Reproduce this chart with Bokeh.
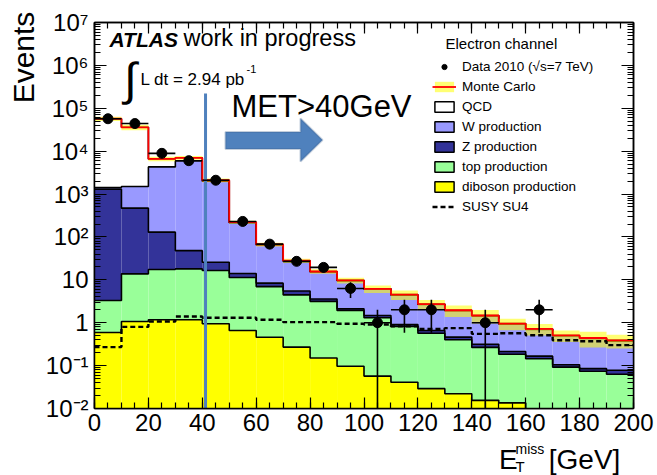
import numpy as np
from bokeh.plotting import figure
from bokeh.layouts import row, column
from bokeh.models import (Label, Legend, LegendItem, LinearAxis, LogAxis, FixedTicker,
                          PolyAnnotation, Range1d)
from bokeh.embed import file_html
from bokeh.resources import INLINE

# ---------------- data ----------------
BIN_EDGES = [0, 10, 20, 30, 40, 50, 60, 70, 80, 90, 100,
             110, 120, 130, 140, 150, 160, 170, 180, 190, 200]
DATA = [57000, 44000, 8900, 6000, 2100, 230, 68, 27, 19.5, 6.3,
        1, 2, 2, 0, 1, 0, 2, 0, 0, 0]
QCD = [55600, 34500, 2300, 1000, 100, 6, 2, 0.9, 0.4, 0.2,
       0.1, 0.1, 0.06, 0.04, 0.03, 0.02, 0.02, 0.01, 0.01, 0.01]
W_PROD = [120, 1030, 4170, 5950, 1975, 201, 56.6, 21.5, 11.7, 7.4,
          4.6, 3.5, 2.0, 1.45, 1.13, 0.72, 0.53, 0.39, 0.345, 0.30]
Z_PROD = [1297, 456, 112, 30, 9.2, 2.7, 1.4, 1.0, 0.41, 0.18,
          0.17, 0.09, 0.09, 0.06, 0.05, 0.03, 0.021, 0.013, 0.011, 0.015]
TOP_PROD = [2.7, 12.7, 16.3, 16.8, 15.6, 10.7, 6.5, 4.2, 3.0, 1.84,
            1.25, 0.78, 0.54, 0.38, 0.25, 0.17, 0.145, 0.092, 0.074, 0.063]
DIBOSON = [0.59, 1.07, 1.17, 1.17, 0.95, 0.66, 0.46, 0.27, 0.15, 0.097,
           0.057, 0.041, 0.029, 0.022, 0.0155, 0.0135, 0, 0, 0, 0]
SUSY_SU4 = [0.27, 0.8, 1.07, 1.40, 1.31, 1.31, 1.17, 1.03, 1.03, 0.95,
            0.91, 0.82, 0.72, 0.75, 0.55, 0.57, 0.51, 0.39, 0.37, 0.30]
MC_REL_UNC = [0.12, 0.15, 0.12, 0.10, 0.10, 0.08, 0.10, 0.12, 0.12, 0.15,
              0.20, 0.25, 0.25, 0.30, 0.35, 0.30, 0.30, 0.30, 0.40, 0.35]
MET_CUT = 41.2

X_TICKS = [0, 20, 40, 60, 80, 100, 120, 140, 160, 180, 200]
Y_TICK_VALUES = [1e-2, 1e-1, 1.0, 10.0, 1e2, 1e3, 1e4, 1e5, 1e6, 1e7]
Y_TICK_LABELS = ["10⁻²", "10⁻¹", "1", "10", "10²", "10³", "10⁴", "10⁵", "10⁶", "10⁷"]

LEGEND_TITLE = "Electron channel"
LEGEND_LABELS = ["Data 2010 (√s=7 TeV)", "Monte Carlo", "QCD", "W production",
                 "Z production", "top production", "diboson production", "SUSY SU4"]

# ---------------- styling ----------------
FONT = "Liberation Sans"
W, H = 657, 475
STRIP_W = 40                              # left strip holding "Events"
MAIN_H = 440                              # main figure height
FL, FR, FT, FB = 94, 633, 22, 408         # frame edges in picture pixels
FLOOR = 1e-3
K_BASE = 0.35                             # alphabetic baseline correction (em)

C_W = "#9999ff"
C_Z = "#333399"
C_TOP = "#99ff99"
C_DIB = "#ffff00"
C_ARROW = "#4f81bd"

p = figure(width=W - STRIP_W, height=MAIN_H, x_range=(0, 200), y_range=(1e-2, 1e7),
           y_axis_type="log", output_backend="svg", toolbar_location=None,
           min_border_left=FL - STRIP_W, min_border_right=W - FR,
           min_border_top=FT, min_border_bottom=MAIN_H - FB)
p.grid.visible = False
p.outline_line_color = "black"
p.outline_line_width = 1.5
p.background_fill_color = "white"
p.border_fill_color = "white"

edges = np.array(BIN_EDGES, dtype=float)
left, right = edges[:-1], edges[1:]
centers = 0.5 * (left + right)

# stacked histograms, bottom to top
components = [DIBOSON, TOP_PROD, Z_PROD, W_PROD, QCD]
colors = [C_DIB, C_TOP, C_Z, C_W, "white"]
cum = np.zeros(len(left))
levels = []
for comp, col in zip(components, colors):
    lower = cum.copy()
    cum = cum + np.array(comp, dtype=float)
    levels.append(cum.copy())
    p.quad(left=left, right=right, bottom=np.maximum(lower, FLOOR),
           top=np.maximum(cum, FLOOR), fill_color=col, line_alpha=0)

total = cum.copy()

def step_y(vals):
    v = np.maximum(np.asarray(vals, dtype=float), FLOOR)
    return np.append(v, v[-1])

for lev in levels:
    p.step(x=edges, y=step_y(lev), mode="after", line_color="black", line_width=1.6)

# MC uncertainty band
unc = np.array(MC_REL_UNC)
band = p.quad(left=left, right=right, bottom=total * (1 - unc), top=total * (1 + unc),
              fill_color=C_DIB, fill_alpha=0.55, line_alpha=0)
# MC total
mc_line = p.step(x=edges, y=step_y(total), mode="after", line_color="red", line_width=1.8)

# SUSY
susy = p.step(x=edges, y=step_y(SUSY_SU4), mode="after", line_color="black",
              line_width=2.4, line_dash="5 3")

# cut line
p.segment(x0=[MET_CUT], y0=[1e-2 * 0.8], x1=[MET_CUT], y1=[2.2e5],
          line_color=C_ARROW, line_width=3)

# data
d = np.array(DATA, dtype=float)
has = d > 0
xd, yd = centers[has], d[has]
err = np.sqrt(yd)
lo = np.where(yd - err > FLOOR, yd - err, FLOOR)
p.segment(x0=xd, y0=lo, x1=xd, y1=yd + err, line_color="black", line_width=1.6)
p.segment(x0=left[has], y0=yd, x1=right[has], y1=yd, line_color="black", line_width=1.6)
data_r = p.scatter(x=xd, y=yd, marker="circle", size=10, fill_color="black",
                   line_color="black")

# ---------------- axes ----------------
xt = FixedTicker(ticks=X_TICKS, minor_ticks=list(np.arange(0, 201, 5)))
minor_y = [m * 10.0 ** e for e in range(-2, 7) for m in range(2, 10)]
yt = FixedTicker(ticks=Y_TICK_VALUES, minor_ticks=minor_y)

def style_axis(ax, major_in, minor_in):
    ax.axis_line_color = "black"
    ax.axis_line_width = 1.5
    ax.major_tick_in = major_in
    ax.major_tick_out = 0
    ax.minor_tick_in = minor_in
    ax.minor_tick_out = 0
    ax.major_tick_line_color = "black"
    ax.minor_tick_line_color = "black"
    ax.major_tick_line_width = 1.2
    ax.minor_tick_line_width = 1.2

xa = p.xaxis[0]
xa.ticker = xt
style_axis(xa, 11, 6)
xa.major_label_text_font = FONT
xa.major_label_text_font_size = "24px"
xa.major_label_text_color = "black"
xa.major_label_standoff = 5

ya = p.yaxis[0]
ya.ticker = yt
style_axis(ya, 12, 6)
ya.major_label_overrides = dict(zip(Y_TICK_VALUES, Y_TICK_LABELS))
ya.major_label_text_font = FONT
ya.major_label_text_font_size = "24px"
ya.major_label_text_color = "black"
ya.major_label_standoff = 6

top_ax = LinearAxis(ticker=xt, major_label_text_font_size="6px",
                    major_label_text_color=None, major_label_standoff=0)
style_axis(top_ax, 11, 6)
p.add_layout(top_ax, "above")
right_ax = LogAxis(ticker=yt, major_label_text_font_size="6px",
                   major_label_text_color=None, major_label_standoff=0)
style_axis(right_ax, 12, 6)
p.add_layout(right_ax, "right")

# ---------------- texts (positions in picture pixels) ----------------
def lab(fig, text, x, y, size, style="normal", align="left", baseline="alphabetic",
        angle=0.0, frame_rel=True):
    yy = y - K_BASE * size if baseline == "alphabetic" else y
    if frame_rel:
        kw = dict(x=x - FL, y=FB - yy, x_units="screen", y_units="screen")
    else:
        kw = dict(x=x, y=yy)
    fig.add_layout(Label(text=text, text_font=FONT, text_font_size=f"{size}px",
                         text_font_style=style, text_align=align, text_baseline=baseline,
                         text_color="black", angle=angle, **kw))

lab(p, "ATLAS", 109, 46, 21, style="bold italic")
lab(p, "work in progress", 183, 46, 23.5)
lab(p, "∫", 130, 78, 46, align="center", baseline="middle")
lab(p, "L dt = 2.94 pb", 140, 85, 17)
lab(p, "-1", 246, 72, 11)
lab(p, "MET>40GeV", 231, 117, 31)
lab(p, LEGEND_TITLE, 445, 48, 15)

# big arrow
ax_pts = [225, 300, 300, 322, 300, 300, 225]
ay_pts = [131.5, 131.5, 118, 139.5, 161, 148.5, 148.5]
p.add_layout(PolyAnnotation(xs=[v - FL for v in ax_pts], ys=[FB - v for v in ay_pts],
                            xs_units="screen", ys_units="screen",
                            fill_color=C_ARROW, fill_alpha=1.0,
                            line_color="#385d8a", line_width=2))

# ---------------- legend ----------------
def legend_box(col):
    return p.quad(left=[np.nan], right=[np.nan], top=[np.nan], bottom=[np.nan],
                  fill_color=col, line_color="black", line_width=1.5)

leg_qcd = legend_box("white")
leg_w = legend_box(C_W)
leg_z = legend_box(C_Z)
leg_t = legend_box(C_TOP)
leg_d = legend_box(C_DIB)

items = [
    LegendItem(label=LEGEND_LABELS[0], renderers=[data_r]),
    LegendItem(label=LEGEND_LABELS[1], renderers=[band, mc_line]),
    LegendItem(label=LEGEND_LABELS[2], renderers=[leg_qcd]),
    LegendItem(label=LEGEND_LABELS[3], renderers=[leg_w]),
    LegendItem(label=LEGEND_LABELS[4], renderers=[leg_z]),
    LegendItem(label=LEGEND_LABELS[5], renderers=[leg_t]),
    LegendItem(label=LEGEND_LABELS[6], renderers=[leg_d]),
    LegendItem(label=LEGEND_LABELS[7], renderers=[susy]),
]
legend = Legend(items=items, location=(432 - FL, FB - 213.5),
                border_line_alpha=0, background_fill_alpha=0,
                padding=0, margin=0, spacing=5,
                glyph_width=24, glyph_height=13, label_height=13,
                label_standoff=6, label_text_font=FONT,
                label_text_font_size="13.5px", label_text_color="black")
p.add_layout(legend)

# ---------------- strips for the axis titles ----------------
def strip(width, height, x0, x1, y0, y1):
    s = figure(width=width, height=height, x_range=Range1d(x0, x1), y_range=Range1d(y1, y0),
               output_backend="svg", toolbar_location=None,
               x_axis_location=None, y_axis_location=None, min_border=0)
    s.outline_line_color = None
    s.background_fill_color = "white"
    s.border_fill_color = "white"
    s.grid.visible = False
    return s

left_strip = strip(STRIP_W, H, 0, STRIP_W, 0, H)
lab(left_strip, "Events", 23, 57, 30, align="center", baseline="middle",
    angle=np.pi / 2, frame_rel=False)

bottom_strip = strip(W - STRIP_W, H - MAIN_H, STRIP_W, W, MAIN_H, H)
lab(bottom_strip, "E", 503, 469, 28, frame_rel=False)
lab(bottom_strip, "miss", 522, 453, 14, frame_rel=False)
lab(bottom_strip, "T", 522, 471.5, 15, frame_rel=False)
lab(bottom_strip, "[GeV]", 560, 469, 28, frame_rel=False)

layout = row(left_strip, column(p, bottom_strip, spacing=0), spacing=0)

open("out.html", "w").write(file_html(layout, INLINE))
